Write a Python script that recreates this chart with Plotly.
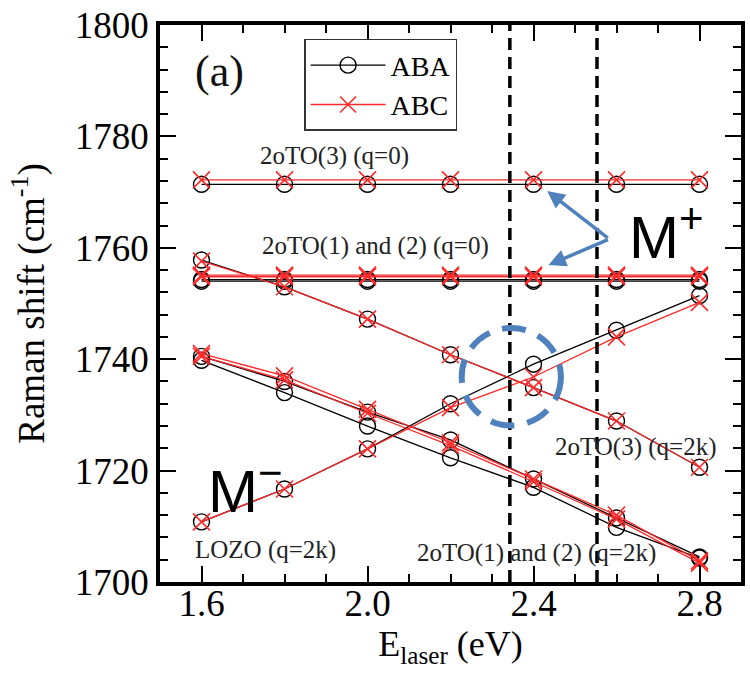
import plotly.graph_objects as go

# ---------------- data ----------------
E_LASER = [1.6, 1.8, 2.0, 2.2, 2.4, 2.6, 2.8]

# ABA stacking
ABA_2OTO3_Q0 = [1771.4, 1771.4, 1771.4, 1771.4, 1771.4, 1771.4, 1771.4]
ABA_2OTO1_Q0 = [1754.3, 1754.3, 1754.3, 1754.3, 1754.3, 1754.3, 1754.3]
ABA_2OTO2_Q0 = [1754.0, 1754.0, 1754.0, 1754.0, 1754.0, 1754.0, 1754.0]
ABA_2OTO3_Q2K = [1757.8, 1753.0, 1747.2, 1740.8, 1734.9, 1728.9, 1720.6]
ABA_LOZO_Q2K = [1710.8, 1716.7, 1723.9, 1732.0, 1739.1, 1745.2, 1751.4]
ABA_2OTO1_Q2K = [1740.5, 1736.0, 1730.5, 1725.5, 1718.5, 1711.5, 1704.5]
ABA_2OTO2_Q2K = [1739.8, 1734.0, 1728.0, 1722.3, 1717.0, 1709.8, 1704.3]

# ABC stacking
ABC_2OTO3_Q0 = [1772.2, 1772.2, 1772.2, 1772.2, 1772.2, 1772.2, 1772.2]
ABC_2OTO1_Q0 = [1755.1, 1755.1, 1755.1, 1755.1, 1755.1, 1755.1, 1755.1]
ABC_2OTO2_Q0 = [1754.8, 1754.8, 1754.8, 1754.8, 1754.8, 1754.8, 1754.8]
ABC_2OTO3_Q2K = [1757.6, 1753.0, 1747.2, 1740.8, 1734.9, 1728.9, 1720.6]
ABC_LOZO_Q2K = [1710.8, 1716.7, 1723.9, 1731.3, 1736.8, 1744.0, 1750.2]
ABC_2OTO1_Q2K = [1741.0, 1737.0, 1731.0, 1725.0, 1718.5, 1712.0, 1703.8]
ABC_2OTO2_Q2K = [1740.5, 1736.3, 1730.3, 1724.5, 1718.0, 1711.3, 1703.4]

# resonance energies (vertical dashed lines)
RESONANCE_E = [2.343, 2.553]

# branch labels: (text, x, y)
BRANCH_LABELS = [
    ("2oTO(3) (q=0)", 1.92, 1776.4),
    ("2oTO(1) and (2) (q=0)", 2.02, 1760.3),
    ("2oTO(3) (q=2k)", 2.646, 1724.2),
    ("LOZO (q=2k)", 1.754, 1705.7),
    ("2oTO(1) and (2) (q=2k)", 2.407, 1705.2),
]

ABA_SERIES = [ABA_2OTO3_Q0, ABA_2OTO1_Q0, ABA_2OTO2_Q0, ABA_2OTO3_Q2K,
              ABA_LOZO_Q2K, ABA_2OTO1_Q2K, ABA_2OTO2_Q2K]
ABC_SERIES = [ABC_2OTO3_Q0, ABC_2OTO1_Q0, ABC_2OTO2_Q0, ABC_2OTO3_Q2K,
              ABC_LOZO_Q2K, ABC_2OTO1_Q2K, ABC_2OTO2_Q2K]

SERIF = "Liberation Serif"
BLUE = "#4f81bd"
RED = "#ff2a2a"

fig = go.Figure()

for i, ys in enumerate(ABA_SERIES):
    fig.add_trace(go.Scatter(
        x=E_LASER, y=ys, mode="lines+markers", name="ABA",
        legendgroup="ABA", showlegend=(i == 0),
        line=dict(color="black", width=1.3),
        marker=dict(symbol="circle-open", size=16, color="black",
                    line=dict(width=1.4)),
    ))

for i, ys in enumerate(ABC_SERIES):
    fig.add_trace(go.Scatter(
        x=E_LASER, y=ys, mode="lines+markers", name="ABC",
        legendgroup="ABC", showlegend=(i == 0),
        line=dict(color=RED, width=1.3),
        marker=dict(symbol="x-thin-open", size=17, color=RED,
                    line=dict(width=1.6, color=RED)),
    ))

# vertical dashed lines
for e in RESONANCE_E:
    fig.add_shape(type="line", xref="x", yref="paper", x0=e, x1=e, y0=0, y1=1,
                  line=dict(color="black", width=3.5, dash="12px,7px"))

# blue dashed circle
fig.add_shape(type="circle", xref="x", yref="y",
              x0=2.227, x1=2.466, y0=1728.1, y1=1745.6,
              line=dict(color=BLUE, width=6, dash="24px,13px"))

# blue arrows
fig.add_annotation(x=2.433, y=1770.2, ax=62, ay=48, xref="x", yref="y",
                   text="", showarrow=True, arrowhead=2, arrowsize=1,
                   arrowwidth=3.5, arrowcolor=BLUE, standoff=0)
fig.add_annotation(x=2.436, y=1756.9, ax=61, ay=-26, xref="x", yref="y",
                   text="", showarrow=True, arrowhead=2, arrowsize=1,
                   arrowwidth=3.5, arrowcolor=BLUE, standoff=0)

# branch labels
for txt, xx, yy in BRANCH_LABELS:
    fig.add_annotation(x=xx, y=yy, text=txt, showarrow=False,
                       font=dict(family=SERIF, size=25, color="#222222"))

# panel label
fig.add_annotation(x=1.644, y=1791.6, text="(a)", showarrow=False,
                   font=dict(family=SERIF, size=44, color="#111111"))

# M+ / M- labels
fig.add_annotation(x=2.625, y=1762.6, text="M<sup>+</sup>", showarrow=False,
                   xanchor="left", font=dict(family="Liberation Sans", size=60, color="black"))
fig.add_annotation(x=1.612, y=1717.1, text="M<sup>\u2212</sup>", showarrow=False,
                   xanchor="left", font=dict(family="Liberation Sans", size=60, color="black"))

axis_common = dict(
    ticks="inside", ticklen=16, tickwidth=1.5, tickcolor="black",
    showline=True, linewidth=3.5, linecolor="black", mirror="ticks",
    showgrid=False, zeroline=False,
    tickfont=dict(family=SERIF, size=37, color="black"),
)

fig.update_layout(
    width=750, height=673,
    margin=dict(l=160, r=5, t=21, b=91),
    paper_bgcolor="white", plot_bgcolor="white",
    xaxis=dict(range=[1.5, 2.9], dtick=0.4, tick0=1.6, tickformat=".1f",
               ticklabelstandoff=-14,
               minor=dict(dtick=0.1, ticklen=8, tickwidth=1.5, ticks="inside", tickcolor="black"),
               title=dict(text="E<sub>laser</sub> (eV)", standoff=0,
                          font=dict(family=SERIF, size=36, color="black")),
               **axis_common),
    yaxis=dict(range=[1700, 1800], dtick=20, tick0=1700,
               minor=dict(dtick=4, ticklen=8, tickwidth=1.5, ticks="inside", tickcolor="black"),
               title=dict(text="Raman shift (cm<sup>-1</sup>)", standoff=20,
                          font=dict(family=SERIF, size=37, color="black")),
               **axis_common),
    legend=dict(x=0.248, y=0.975, xanchor="left", yanchor="top",
                bordercolor="#333333", borderwidth=1.5, bgcolor="white",
                font=dict(family=SERIF, size=28, color="black"),
                itemwidth=75, tracegroupgap=0),
    showlegend=True,
)

fig.write_html("out.html", config={"displayModeBar": False},
               post_script="document.body.style.margin='0';")
